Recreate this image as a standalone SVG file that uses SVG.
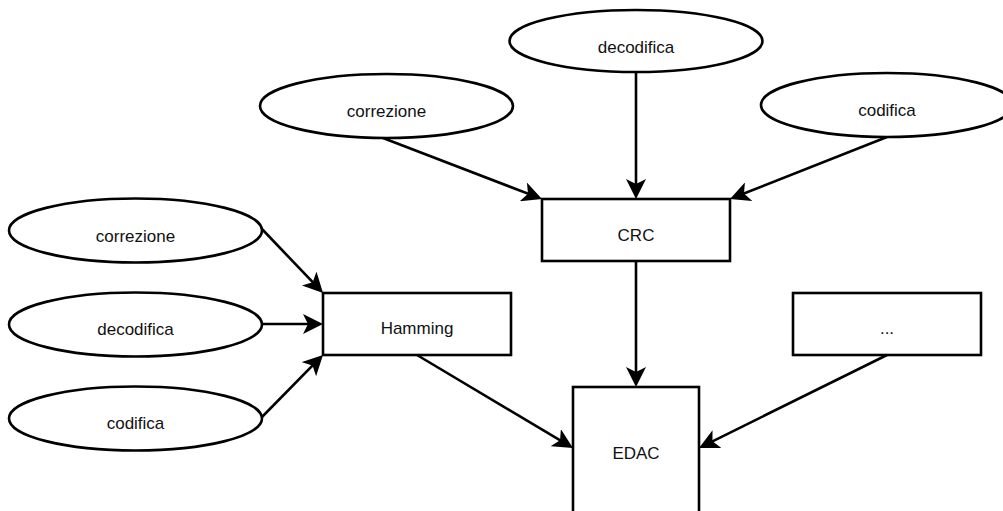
<svg xmlns="http://www.w3.org/2000/svg" width="1003" height="511" viewBox="0 0 1003 511">
  <style>
    .shape { fill: #ffffff; stroke: #000000; stroke-width: 2.6; }
    .label { font-family: "Liberation Sans", Arial, sans-serif; font-size: 17px; fill: #111111; text-anchor: middle; }
    .edge { fill: none; stroke: #000000; stroke-width: 2.6; marker-end: url(#arrow); }
  </style>
  <defs>
    <marker id="arrow" viewBox="0 0 20 20" markerWidth="20" markerHeight="20" refX="14" refY="10" orient="auto" markerUnits="userSpaceOnUse">
      <path d="M0,0 L20,10 L0,20 L5,10 Z" fill="#000000"/>
    </marker>
  </defs>
  <rect width="1003" height="511" fill="#ffffff"/>

  <g id="connectors">
    <path class="edge" d="M383,138 L536.4,196.9"/>
    <path class="edge" d="M636,72 L636,193"/>
    <path class="edge" d="M887,137 L735.6,196.8"/>
    <path class="edge" d="M636,261 L636,381"/>
    <path class="edge" d="M261,228 L318.9,288.7"/>
    <path class="edge" d="M262,324 L317,324"/>
    <path class="edge" d="M261,418 L318.8,359.2"/>
    <path class="edge" d="M417,355 L567.8,444.9"/>
    <path class="edge" d="M887,355 L704.4,445.3"/>
  </g>

  <g id="crc-correzione">
    <ellipse class="shape" cx="386.5" cy="106" rx="126.5" ry="32"/>
    <text class="label" x="386.5" y="116.5">correzione</text>
  </g>
  <g id="crc-decodifica">
    <ellipse class="shape" cx="636" cy="41" rx="126.5" ry="31"/>
    <text class="label" x="636" y="52.5">decodifica</text>
  </g>
  <g id="crc-codifica">
    <ellipse class="shape" cx="887" cy="105" rx="126" ry="32"/>
    <text class="label" x="887" y="115.5">codifica</text>
  </g>

  <g id="hamming-correzione">
    <ellipse class="shape" cx="135.5" cy="230.5" rx="126.5" ry="32"/>
    <text class="label" x="135.5" y="241.5">correzione</text>
  </g>
  <g id="hamming-decodifica">
    <ellipse class="shape" cx="135.5" cy="324.5" rx="126.5" ry="32"/>
    <text class="label" x="135.5" y="334.5">decodifica</text>
  </g>
  <g id="hamming-codifica">
    <ellipse class="shape" cx="135.5" cy="418.5" rx="126.5" ry="32"/>
    <text class="label" x="135.5" y="428.5">codifica</text>
  </g>

  <g id="crc">
    <rect class="shape" x="542" y="199" width="188" height="62"/>
    <text class="label" x="636" y="240.5">CRC</text>
  </g>
  <g id="hamming">
    <rect class="shape" x="323" y="293" width="188" height="62"/>
    <text class="label" x="417" y="334">Hamming</text>
  </g>
  <g id="other">
    <rect class="shape" x="793" y="293" width="188" height="62"/>
    <text class="label" x="887" y="334">...</text>
  </g>
  <g id="edac">
    <rect class="shape" x="573" y="387" width="126" height="132"/>
    <text class="label" x="636" y="459">EDAC</text>
  </g>
</svg>
